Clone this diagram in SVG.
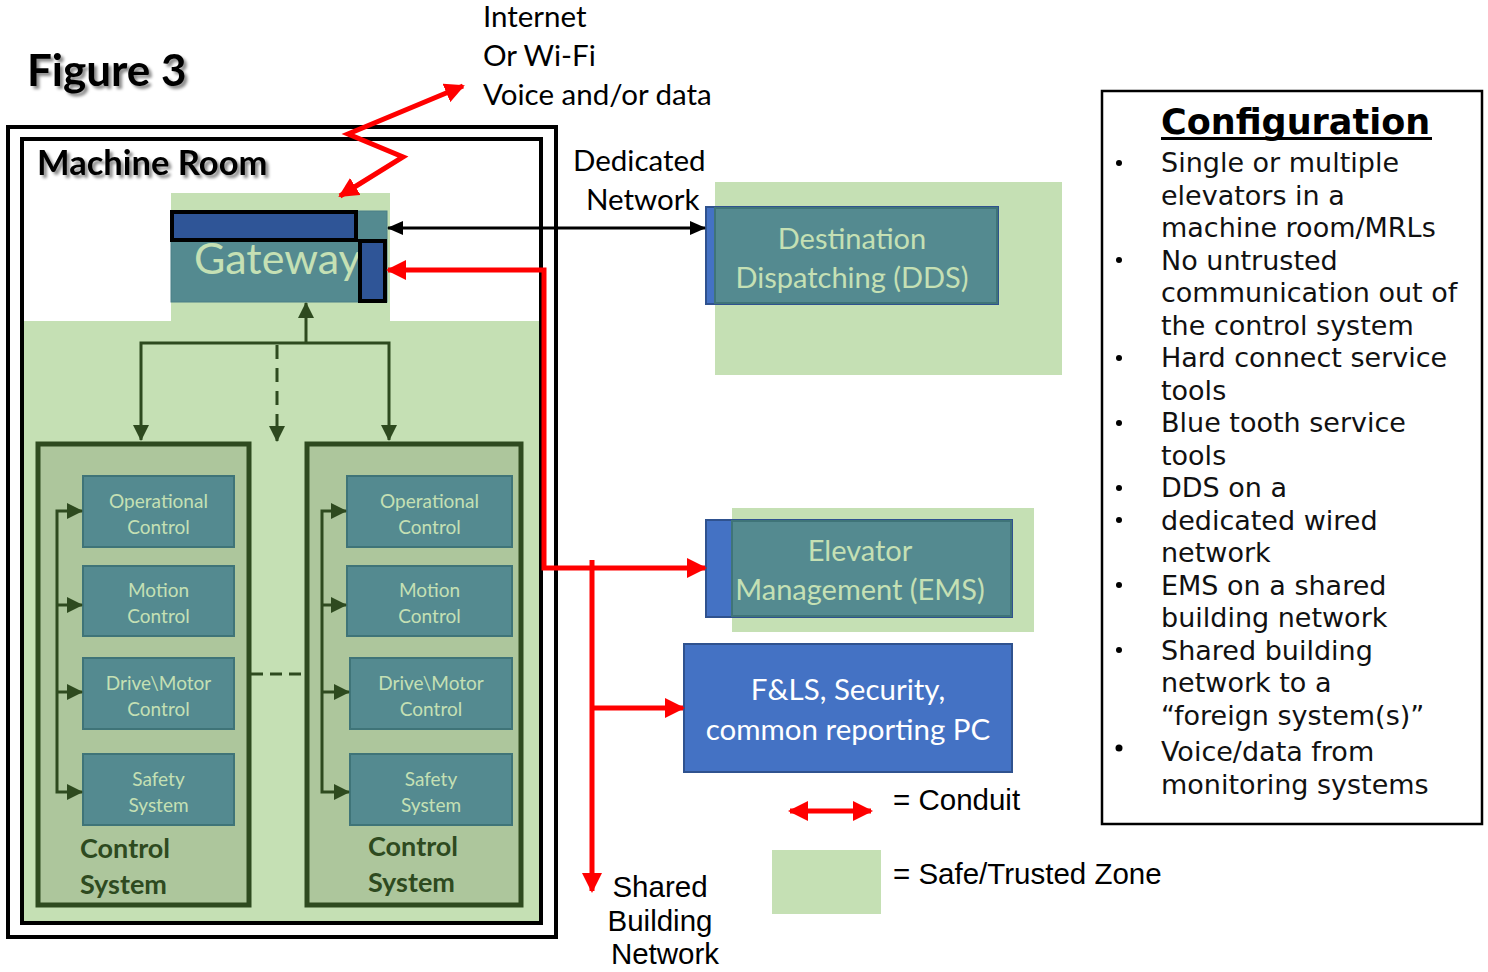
<svg xmlns="http://www.w3.org/2000/svg" width="1488" height="972" viewBox="0 0 1488 972">
  <defs>
    <style>
      .cal { font-family: Lato, "Open Sans", sans-serif; }
      .ari { font-family: "Liberation Sans", Arial, sans-serif; }
      .mon { font-family: "DejaVu Sans", "Noto Sans", sans-serif; }
      .zone { fill: #c5e0b4; }
      .teal { fill: #548a90; stroke: #3f7478; stroke-width: 2; }
      .blue { fill: #4472c4; stroke: #2f528f; stroke-width: 2; }
      .ctl { fill: #adc69c; stroke: #2e4a1f; stroke-width: 5; }
      .sub { font-size: 19px; fill: #c5e0b4; text-anchor: middle; }
      .big { font-size: 29px; fill: #c5e0b4; text-anchor: middle; }
      .lbl { font-size: 29.5px; fill: #000; }
      .ctltxt { font-size: 27px; font-weight: bold; fill: #2e4a1f; }
      .cfg { font-size: 27px; fill: #111; }
      .red { stroke: #ff0000; stroke-width: 5; fill: none; }
      .blk { stroke: #000; stroke-width: 3; fill: none; }
      .dg { stroke: #2e4a1f; stroke-width: 3; fill: none; }
      .heading { font-weight: bold; fill: #000; filter: url(#shadow); }
    </style>
    <marker id="ahRed" viewBox="0 0 20 20" refX="18" refY="10" markerWidth="20" markerHeight="20" markerUnits="userSpaceOnUse" orient="auto-start-reverse">
      <path d="M0,0 L20,10 L0,20 Z" fill="#ff0000"/>
    </marker>
    <marker id="ahBlk" viewBox="0 0 16 14" refX="15" refY="7" markerWidth="16" markerHeight="14" markerUnits="userSpaceOnUse" orient="auto-start-reverse">
      <path d="M0,0 L16,7 L0,14 Z" fill="#000"/>
    </marker>
    <marker id="ahDg" viewBox="0 0 16 16" refX="15" refY="8" markerWidth="16" markerHeight="16" markerUnits="userSpaceOnUse" orient="auto-start-reverse">
      <path d="M0,0 L16,8 L0,16 Z" fill="#2e4a1f"/>
    </marker>
    <!-- soft grey drop shadow for headings -->
    <filter id="shadow" x="-10%" y="-30%" width="130%" height="170%">
      <feGaussianBlur in="SourceAlpha" stdDeviation="1.5" result="b"/>
      <feOffset in="b" dx="3" dy="3" result="o"/>
      <feFlood flood-color="#000" flood-opacity="0.45"/>
      <feComposite in2="o" operator="in" result="s"/>
      <feMerge>
        <feMergeNode in="s"/>
        <feMergeNode in="SourceGraphic"/>
      </feMerge>
    </filter>
  </defs>

  <rect width="1488" height="972" fill="#fff"/>

  <!-- Title -->
  <g id="title">
    <text x="27" y="86" class="cal heading" font-size="44">Figure 3</text>
  </g>

  <!-- Machine room enclosure -->
  <g id="machine-room">
    <rect x="8" y="127" width="548" height="810" fill="none" stroke="#000" stroke-width="4"/>
    <rect x="22" y="139" width="519" height="784" fill="#fff" stroke="#000" stroke-width="4"/>
    <rect x="24" y="321" width="515" height="600" class="zone"/>
    <text x="37" y="175" class="cal heading" font-size="34.5">Machine Room</text>
  </g>

  <!-- Gateway -->
  <g id="gateway">
    <rect x="171" y="193" width="219" height="132" class="zone"/>
    <rect x="171" y="211" width="216" height="91" fill="#548a90" stroke="#4a7f86" stroke-width="1"/>
    <text x="194" y="274" class="cal" font-size="43" fill="#c5e0b4">Gateway</text>
    <rect x="172" y="212" width="184" height="28" fill="#2f5597" stroke="#000" stroke-width="4"/>
    <rect x="360" y="241" width="25" height="60" fill="#2f5597" stroke="#000" stroke-width="4"/>
  </g>

  <!-- Control system 1 -->
  <g id="control-system-1">
    <rect x="38" y="444" width="211" height="461" class="ctl"/>
    <rect x="83" y="476" width="151" height="71" class="teal"/>
    <text class="cal sub" x="158.5" y="508">Operational</text>
    <text class="cal sub" x="158.5" y="534">Control</text>
    <rect x="83" y="566" width="151" height="70" class="teal"/>
    <text class="cal sub" x="158.5" y="597">Motion</text>
    <text class="cal sub" x="158.5" y="623">Control</text>
    <rect x="83" y="658" width="151" height="71" class="teal"/>
    <text class="cal sub" x="158.5" y="690">Drive\Motor</text>
    <text class="cal sub" x="158.5" y="716">Control</text>
    <rect x="83" y="754" width="151" height="71" class="teal"/>
    <text class="cal sub" x="158.5" y="786">Safety</text>
    <text class="cal sub" x="158.5" y="812">System</text>
    <text class="cal ctltxt" x="80" y="858">Control</text>
    <text class="cal ctltxt" x="80" y="894">System</text>
  </g>

  <!-- Control system 2 -->
  <g id="control-system-2">
    <rect x="307" y="444" width="214" height="461" class="ctl"/>
    <rect x="347" y="476" width="165" height="71" class="teal"/>
    <text class="cal sub" x="429.5" y="508">Operational</text>
    <text class="cal sub" x="429.5" y="534">Control</text>
    <rect x="347" y="566" width="165" height="70" class="teal"/>
    <text class="cal sub" x="429.5" y="597">Motion</text>
    <text class="cal sub" x="429.5" y="623">Control</text>
    <rect x="350" y="658" width="162" height="71" class="teal"/>
    <text class="cal sub" x="431" y="690">Drive\Motor</text>
    <text class="cal sub" x="431" y="716">Control</text>
    <rect x="350" y="754" width="162" height="71" class="teal"/>
    <text class="cal sub" x="431" y="786">Safety</text>
    <text class="cal sub" x="431" y="812">System</text>
    <text class="cal ctltxt" x="368" y="856">Control</text>
    <text class="cal ctltxt" x="368" y="892">System</text>
  </g>

  <!-- Destination dispatching -->
  <g id="dds">
    <rect x="715" y="182" width="347" height="193" class="zone"/>
    <rect x="706" y="207" width="292" height="97" fill="#4472c4" stroke="#2f528f" stroke-width="2"/>
    <rect x="715" y="208" width="282" height="95" fill="#548a90" stroke="#3f7478" stroke-width="2"/>
    <text class="cal big" x="852" y="249">Destination</text>
    <text class="cal big" x="852" y="288">Dispatching (DDS)</text>
  </g>

  <!-- Elevator management -->
  <g id="ems">
    <rect x="732" y="508" width="302" height="124" class="zone"/>
    <rect x="706" y="520" width="306" height="97" fill="#4472c4" stroke="#2f528f" stroke-width="2"/>
    <rect x="732" y="521" width="279" height="95" fill="#548a90" stroke="#3f7478" stroke-width="2"/>
    <text class="cal big" x="860" y="561">Elevator</text>
    <text class="cal big" x="860" y="600" font-size="30">Management (EMS)</text>
  </g>

  <!-- Fire / life safety and security -->
  <g id="fls">
    <rect x="684" y="644" width="328" height="128" class="blue"/>
    <text class="cal" x="848" y="700" font-size="29.5" fill="#fff" text-anchor="middle">F&amp;LS, Security,</text>
    <text class="cal" x="848" y="740" font-size="29.5" fill="#fff" text-anchor="middle">common reporting PC</text>
  </g>

  <!-- Connectors -->
  <g id="connectors">
    <!-- outside link -->
    <path class="red" d="M463,86 L348,134 L403,157 L340,196" marker-start="url(#ahRed)" marker-end="url(#ahRed)"/>
    <!-- dedicated network -->
    <line class="blk" x1="388" y1="228" x2="705" y2="228" marker-start="url(#ahBlk)" marker-end="url(#ahBlk)"/>
    <!-- shared building conduit -->
    <path class="red" d="M705,568 L544,568 L544,270 L388,270" marker-start="url(#ahRed)" marker-end="url(#ahRed)"/>
    <line class="red" x1="592" y1="560" x2="592" y2="891" marker-end="url(#ahRed)"/>
    <line class="red" x1="592" y1="708" x2="683" y2="708" marker-end="url(#ahRed)"/>
    <!-- gateway to control systems -->
    <line class="dg" x1="306" y1="343" x2="306" y2="303" marker-end="url(#ahDg)"/>
    <path class="dg" d="M141,440 L141,343 L389,343 L389,440" marker-start="url(#ahDg)" marker-end="url(#ahDg)"/>
    <line class="dg" x1="277" y1="345" x2="277" y2="441" stroke-dasharray="14,9" marker-end="url(#ahDg)"/>
    <line class="dg" x1="251" y1="674" x2="306" y2="674" stroke-dasharray="12,7"/>
    <!-- internal buses -->
    <path class="dg" d="M82,511 L57,511 L57,792 L82,792" marker-start="url(#ahDg)" marker-end="url(#ahDg)"/>
    <line class="dg" x1="57" y1="605" x2="82" y2="605" marker-end="url(#ahDg)"/>
    <line class="dg" x1="57" y1="692" x2="82" y2="692" marker-end="url(#ahDg)"/>
    <path class="dg" d="M346,511 L322,511 L322,792 L349,792" marker-start="url(#ahDg)" marker-end="url(#ahDg)"/>
    <line class="dg" x1="322" y1="605" x2="346" y2="605" marker-end="url(#ahDg)"/>
    <line class="dg" x1="322" y1="692" x2="349" y2="692" marker-end="url(#ahDg)"/>
  </g>

  <!-- Free labels -->
  <g id="labels">
    <text class="cal lbl" x="483" y="27">Internet</text>
    <text class="cal lbl" x="483" y="66">Or Wi-Fi</text>
    <text class="cal lbl" x="483" y="105">Voice and/or data</text>
    <text class="cal lbl" x="573" y="171" font-size="29">Dedicated</text>
    <text class="cal lbl" x="586" y="210" font-size="29">Network</text>
    <text class="ari lbl" x="660" y="897" text-anchor="middle" font-size="29">Shared</text>
    <text class="ari lbl" x="660" y="931" text-anchor="middle" font-size="29">Building</text>
    <text class="ari lbl" x="665" y="964" text-anchor="middle" font-size="29">Network</text>
  </g>

  <!-- Legend -->
  <g id="legend">
    <line class="red" x1="790" y1="811" x2="871" y2="811" marker-start="url(#ahRed)" marker-end="url(#ahRed)"/>
    <text class="ari lbl" x="893" y="810">= Conduit</text>
    <rect x="772" y="850" width="109" height="64" class="zone"/>
    <text class="ari lbl" x="893" y="884">= Safe/Trusted Zone</text>
  </g>

  <!-- Configuration notes -->
  <g id="configuration">
    <rect x="1102" y="91" width="380" height="733" fill="#fff" stroke="#000" stroke-width="2.5"/>
    <text class="mon" x="1161" y="134" font-size="35" font-weight="bold" fill="#000">Configuration</text>
    <rect x="1161" y="137" width="271" height="3" fill="#000"/>
    <g fill="#000">
      <circle cx="1119" cy="163" r="3"/>
      <circle cx="1119" cy="260" r="3"/>
      <circle cx="1119" cy="358" r="3"/>
      <circle cx="1119" cy="423" r="3"/>
      <circle cx="1119" cy="488" r="3"/>
      <circle cx="1119" cy="520" r="3"/>
      <circle cx="1119" cy="585" r="3"/>
      <circle cx="1119" cy="650" r="3"/>
      <circle cx="1119" cy="748" r="3.5"/>
    </g>
    <g class="mon cfg">
      <text x="1161" y="172">Single or multiple</text>
      <text x="1161" y="204.5">elevators in a</text>
      <text x="1161" y="237">machine room/MRLs</text>
      <text x="1161" y="269.5">No untrusted</text>
      <text x="1161" y="302">communication out of</text>
      <text x="1161" y="334.5">the control system</text>
      <text x="1161" y="367">Hard connect service</text>
      <text x="1161" y="399.5">tools</text>
      <text x="1161" y="432">Blue tooth service</text>
      <text x="1161" y="464.5">tools</text>
      <text x="1161" y="497">DDS on a</text>
      <text x="1161" y="529.5">dedicated wired</text>
      <text x="1161" y="562">network</text>
      <text x="1161" y="594.5">EMS on a shared</text>
      <text x="1161" y="627">building network</text>
      <text x="1161" y="659.5">Shared building</text>
      <text x="1161" y="692">network to a</text>
      <text x="1161" y="724.5">“foreign system(s)”</text>
      <text x="1161" y="761">Voice/data from</text>
      <text x="1161" y="793.5">monitoring systems</text>
    </g>
  </g>
</svg>
